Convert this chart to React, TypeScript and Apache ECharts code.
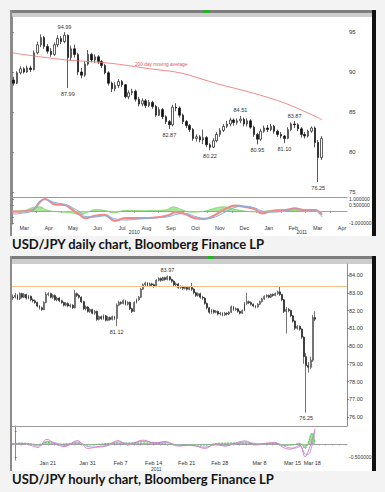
import React, { useEffect, useRef } from "react";
import * as echarts from "echarts";

// ---------------- DAILY (3-trading-day bars: [open, close, low, high]) ----------------
const dailyBars: number[][] = [
  [89.0, 88.6, 88.3, 89.4], [88.6, 89.9, 88.5, 90.1], [89.9, 90.4, 89.7, 90.7], [90.4, 90.0, 89.8, 90.6],
  [90.0, 90.5, 89.9, 90.8], [90.5, 90.3, 90.0, 90.8], [90.3, 92.4, 90.2, 92.7], [92.4, 93.4, 92.2, 93.8],
  [93.4, 94.3, 93.1, 94.7], [94.3, 93.2, 92.9, 94.5], [93.2, 92.6, 92.3, 93.5], [92.6, 92.2, 91.9, 93.0],
  [92.2, 93.4, 92.0, 93.7], [93.4, 94.2, 93.1, 94.6], [94.2, 93.8, 93.5, 94.5], [93.8, 94.6, 93.6, 94.99],
  [94.6, 91.8, 87.99, 94.7], [91.8, 92.9, 91.4, 93.3], [92.9, 92.2, 91.8, 93.4], [92.2, 90.0, 89.6, 92.4],
  [90.0, 89.6, 89.2, 90.5], [89.6, 91.0, 89.4, 91.3], [91.0, 92.2, 90.8, 92.75], [92.2, 91.5, 91.2, 92.4],
  [91.5, 91.9, 91.1, 92.2], [91.9, 91.3, 91.0, 92.1], [91.3, 90.8, 90.5, 91.5], [90.8, 89.9, 89.7, 91.0],
  [89.9, 88.6, 88.3, 90.1], [88.6, 87.9, 87.5, 88.8], [87.9, 88.3, 87.6, 88.7], [88.3, 88.8, 88.0, 89.1],
  [88.8, 88.4, 88.1, 89.0], [88.4, 86.9, 86.7, 88.5], [86.9, 87.4, 86.6, 87.7], [87.4, 87.6, 87.1, 87.9],
  [87.6, 86.6, 86.3, 87.8], [86.6, 86.0, 85.7, 86.9], [86.0, 86.4, 85.7, 86.7], [86.4, 85.8, 85.5, 86.6],
  [85.8, 86.2, 85.6, 86.5], [86.2, 85.7, 85.4, 86.4], [85.7, 84.6, 84.4, 85.9], [84.6, 85.3, 84.5, 85.6],
  [85.3, 84.4, 84.1, 85.5], [84.4, 83.8, 83.5, 84.6], [83.8, 83.4, 82.87, 84.0], [83.4, 85.6, 83.2, 85.9],
  [85.6, 85.5, 85.1, 86.1], [85.5, 84.6, 84.3, 85.7], [84.6, 83.8, 83.5, 84.8], [83.8, 83.3, 83.0, 84.0],
  [83.3, 82.8, 82.5, 83.5], [82.8, 81.7, 81.4, 83.0], [81.7, 81.9, 81.3, 82.2], [81.9, 81.5, 81.2, 82.1],
  [81.5, 81.8, 81.0, 82.8], [81.8, 80.9, 80.6, 82.0], [80.9, 80.6, 80.22, 81.1], [80.6, 81.4, 80.5, 81.7],
  [81.4, 82.2, 81.2, 82.5], [82.2, 82.7, 81.9, 83.0], [82.7, 83.2, 82.5, 83.5], [83.2, 83.5, 83.0, 83.9],
  [83.5, 84.0, 83.2, 84.3], [84.0, 83.7, 83.3, 84.2], [83.7, 83.9, 83.4, 84.2], [83.9, 84.1, 83.6, 84.51],
  [84.1, 83.5, 83.2, 84.3], [83.5, 83.9, 83.2, 84.2], [83.9, 83.1, 82.9, 84.1], [83.1, 82.2, 81.9, 83.3],
  [82.2, 81.6, 80.95, 82.4], [81.6, 82.6, 81.4, 82.9], [82.6, 83.0, 82.4, 83.3], [83.0, 82.8, 82.5, 83.4],
  [82.8, 83.2, 82.6, 83.5], [83.2, 82.6, 82.3, 83.4], [82.6, 82.2, 81.9, 82.8], [82.2, 82.0, 81.7, 82.5],
  [82.0, 81.7, 81.1, 82.1], [81.7, 82.8, 81.6, 83.1], [82.8, 83.5, 82.6, 83.7], [83.5, 83.4, 83.0, 83.87],
  [83.4, 82.9, 82.6, 83.6], [82.9, 82.2, 81.8, 83.1], [82.2, 82.0, 81.7, 82.5], [82.0, 82.6, 81.8, 82.8],
  [82.6, 83.0, 82.4, 83.2], [83.0, 81.2, 80.6, 83.2], [81.2, 79.3, 76.25, 81.5], [79.3, 81.67, 79.0, 82.0],
];
const DAILY_SLOTS = 99;
const DAILY_MONTH_SPAN = 13.7;
const dailyMonthLabels = ["Mar", "Apr", "May", "Jun", "Jul", "Aug", "Sep", "Oct", "Nov", "Dec", "Jan", "Feb", "Mar", "Apr"];
const dailyYearLabels = ["2010", "2011"];
const dailyYearPos = [5, 11.85];
const dailyPriceTicks = [75, 80, 85, 90, 95];
const dailyOscTickMarks = [-1, -0.5, 0, 0.5, 1];
const dailyOscTickLabels = [-1, 0.5, 1];
// 200 day moving average: [months since Mar 1 2010, value]
const dailyMA200 = [
  [0, 92.4], [1.15, 91.9], [2.26, 91.5], [4.01, 91.1], [5.64, 90.4], [6.87, 89.9],
  [8.43, 88.5], [9.82, 87.4], [11.17, 86.1], [12.52, 84.3], [12.68, 84.0],
];
const dailyMALabel = { pos: [6.1, 91.0], text: "200 day moving average" };
// [bar index, price, side]
const dailyAnnotations: [number, number, string][] = [
  [15, 94.99, "top"], [16, 87.99, "bottom"], [46, 82.87, "bottom"], [58, 80.22, "bottom"],
  [67, 84.51, "top"], [72, 80.95, "bottom"], [80, 81.1, "bottom"], [83, 83.87, "top"], [90, 76.25, "bottom"],
];
const dailyLastPrice = 81.67;
const dailyMALast = 84.05;
const dailyOscRed = [
  [0, -0.05], [0.33, -0.05], [0.86, 0.1], [1.15, 0.78], [1.35, 1.0], [1.76, 0.55], [2.17, 0.5], [2.37, 0.25],
  [2.78, -0.33], [2.99, -0.6], [3.39, -0.4], [3.8, -0.33], [4.21, -0.83], [4.62, -0.6], [5.24, -0.6], [6.05, -0.5],
  [6.46, -0.3], [6.67, -0.1], [7.08, -0.25], [7.48, -0.6], [7.89, -0.65], [8.3, -0.33], [8.71, 0.15], [9.12, 0.45],
  [9.53, 0.35], [9.94, 0.15], [10.22, -0.2], [10.63, 0], [11.17, 0.08], [11.57, 0.22], [11.98, 0.05], [12.39, 0.08], [12.68, -0.3],
];
const dailyOscBlue = [
  [0, -0.25], [0.33, -0.2], [0.86, 0.05], [1.15, 0.85], [1.35, 0.95], [1.76, 0.7], [2.17, 0.55], [2.37, 0.4],
  [2.78, -0.1], [2.99, -0.45], [3.39, -0.5], [3.8, -0.4], [4.21, -0.65], [4.62, -0.75], [5.24, -0.65], [6.05, -0.55],
  [6.46, -0.45], [6.67, -0.3], [7.08, -0.2], [7.48, -0.45], [7.89, -0.65], [8.3, -0.5], [8.71, -0.1], [9.12, 0.3],
  [9.53, 0.4], [9.94, 0.25], [10.22, 0.0], [10.63, -0.1], [11.17, 0.0], [11.57, 0.15], [11.98, 0.12], [12.39, 0.05], [12.68, -0.5],
];
const dailyOscGreen = [
  [0, 0], [0.5, 0.05], [0.86, 0.3], [1.15, 0.35], [1.4, 0.1], [1.76, -0.05], [2.4, -0.15], [2.8, -0.3], [3.1, -0.1],
  [3.4, 0.12], [3.8, 0.05], [4.2, -0.15], [4.6, 0.05], [5.5, 0.03], [6.3, 0.1], [6.6, 0.35], [6.9, 0.15], [7.3, -0.1],
  [7.9, 0.0], [8.3, 0.25], [8.7, 0.35], [9.0, 0.2], [9.5, 0.0], [10.0, -0.08], [10.6, 0.05], [11.2, 0.1], [11.6, 0.05],
  [12.1, -0.05], [12.5, 0.0], [12.68, -0.2],
];
const dailyOscBoxValues = [-0.04, -0.46];
const dailyOscBoxTexts = ["-0.3469", "-0.5458"];

// ---------------- HOURLY (8-hour bars: [open, close, low, high]) ----------------
const hourlyBars: number[][] = [
  [82.7, 82.76, 82.6, 82.9], [82.76, 82.85, 82.68, 82.98], [82.85, 82.65, 82.58, 82.92], [82.65, 82.95, 82.6, 83.02],
  [82.95, 82.75, 82.68, 83.0], [82.75, 82.9, 82.7, 82.98], [82.9, 82.7, 82.62, 82.95], [82.7, 82.8, 82.64, 82.88],
  [82.8, 82.6, 82.52, 82.85], [82.6, 82.55, 82.45, 82.68], [82.55, 82.45, 82.38, 82.62], [82.45, 82.25, 82.18, 82.5],
  [82.25, 82.15, 82.06, 82.3], [82.15, 82.05, 81.98, 82.22], [82.05, 82.45, 82.02, 82.52], [82.45, 82.9, 82.4, 83.04],
  [82.9, 82.95, 82.8, 83.02], [82.95, 82.75, 82.68, 83.0], [82.75, 82.85, 82.66, 82.92], [82.85, 82.6, 82.55, 82.9],
  [82.6, 82.7, 82.52, 82.78], [82.7, 82.55, 82.46, 82.75], [82.55, 82.45, 82.38, 82.6], [82.45, 82.3, 82.22, 82.5],
  [82.3, 82.4, 82.24, 82.48], [82.4, 82.25, 82.18, 82.45], [82.25, 82.3, 82.16, 82.38], [82.3, 82.15, 82.08, 82.36],
  [82.15, 82.95, 82.12, 83.15], [82.95, 82.85, 82.76, 83.02], [82.85, 82.75, 82.66, 82.92], [82.75, 82.5, 82.42, 82.8],
  [82.5, 82.1, 82.02, 82.55], [82.1, 82.2, 82.0, 82.28], [82.2, 81.95, 81.88, 82.25], [81.95, 82.05, 81.86, 82.12],
  [82.05, 81.85, 81.78, 82.1], [81.85, 81.95, 81.76, 82.02], [81.95, 81.5, 81.42, 82.0], [81.5, 81.65, 81.44, 81.72],
  [81.65, 81.55, 81.46, 81.72], [81.55, 81.7, 81.48, 81.78], [81.7, 81.45, 81.38, 81.75], [81.45, 81.6, 81.4, 81.68],
  [81.6, 81.5, 81.42, 81.66], [81.5, 81.65, 81.44, 81.72], [81.65, 81.55, 81.46, 81.7], [81.55, 82.3, 81.12, 82.4],
  [82.3, 82.45, 82.24, 82.55], [82.45, 82.4, 82.32, 82.52], [82.4, 82.55, 82.34, 82.62], [82.55, 82.35, 82.28, 82.6],
  [82.35, 82.45, 82.28, 82.52], [82.45, 82.1, 82.02, 82.5], [82.1, 81.95, 81.86, 82.15], [81.95, 82.45, 81.92, 82.52],
  [82.45, 82.6, 82.4, 82.68], [82.6, 82.75, 82.55, 82.82], [82.75, 83.2, 82.7, 83.28], [83.2, 83.45, 83.15, 83.52],
  [83.45, 83.55, 83.38, 83.62], [83.55, 83.4, 83.34, 83.6], [83.4, 83.5, 83.35, 83.58], [83.5, 83.45, 83.38, 83.56],
  [83.45, 83.35, 83.28, 83.52], [83.35, 83.7, 83.32, 83.76], [83.7, 83.8, 83.64, 83.88], [83.8, 83.7, 83.62, 83.86],
  [83.7, 83.85, 83.66, 83.9], [83.85, 83.75, 83.68, 83.9], [83.75, 83.9, 83.7, 83.97], [83.9, 83.75, 83.68, 83.94],
  [83.75, 83.65, 83.56, 83.8], [83.65, 83.45, 83.38, 83.7], [83.45, 83.5, 83.36, 83.58], [83.5, 83.3, 83.22, 83.55],
  [83.3, 83.35, 83.22, 83.42], [83.35, 83.25, 83.16, 83.4], [83.25, 83.3, 83.18, 83.38], [83.3, 83.2, 83.12, 83.36],
  [83.2, 83.3, 83.14, 83.36], [83.3, 83.2, 83.1, 83.55], [83.2, 83.0, 82.92, 83.25], [83.0, 82.85, 82.76, 83.05],
  [82.85, 82.95, 82.78, 83.02], [82.95, 82.75, 82.66, 83.0], [82.75, 82.7, 82.6, 82.82], [82.7, 82.4, 82.32, 82.75],
  [82.4, 82.15, 82.06, 82.45], [82.15, 81.9, 81.82, 82.2], [81.9, 82.0, 81.82, 82.08], [82.0, 81.9, 81.82, 82.06],
  [81.9, 81.95, 81.84, 82.02], [81.95, 81.8, 81.72, 82.0], [81.8, 81.85, 81.72, 81.92], [81.85, 81.75, 81.68, 81.9],
  [81.75, 81.85, 81.7, 81.92], [81.85, 81.8, 81.72, 81.9], [81.8, 81.9, 81.74, 81.96], [81.9, 82.2, 81.86, 82.28],
  [82.2, 82.05, 81.98, 82.25], [82.05, 82.1, 81.98, 82.18], [82.1, 81.95, 81.88, 82.14], [81.95, 81.85, 81.78, 82.0],
  [81.85, 82.0, 81.8, 82.06], [82.0, 82.4, 81.96, 82.48], [82.4, 82.5, 82.32, 83.0], [82.5, 82.45, 82.36, 82.56],
  [82.45, 82.35, 82.28, 82.52], [82.35, 82.25, 82.18, 82.4], [82.25, 82.2, 82.12, 82.3], [82.2, 82.35, 82.16, 82.42],
  [82.35, 82.5, 82.3, 82.56], [82.5, 82.65, 82.45, 82.72], [82.65, 82.8, 82.6, 82.86], [82.8, 82.85, 82.72, 82.92],
  [82.85, 82.75, 82.68, 82.9], [82.75, 82.9, 82.7, 82.96], [82.9, 82.85, 82.78, 82.96], [82.85, 82.95, 82.8, 83.02],
  [82.95, 83.05, 82.88, 83.12], [83.05, 82.9, 82.82, 83.35], [82.9, 82.6, 82.52, 82.95], [82.6, 81.95, 81.86, 82.65],
  [81.95, 82.05, 80.7, 82.2], [82.05, 82.0, 81.9, 82.15], [82.0, 81.7, 81.62, 82.05], [81.7, 81.4, 81.32, 81.75],
  [81.4, 81.0, 80.9, 81.45], [81.0, 81.1, 80.92, 81.18], [81.1, 80.95, 80.86, 81.15], [80.95, 80.5, 80.4, 81.0],
  [80.5, 79.4, 79.0, 80.55], [79.4, 78.9, 76.25, 79.6], [78.9, 78.8, 78.5, 79.1], [78.8, 79.2, 78.7, 79.4],
  [79.2, 81.6, 79.1, 81.75], [81.6, 81.51, 81.4, 81.95],
];
const HOURLY_SLOTS = 152;
const HOURLY_BARS_PER_DAY = 3;
const HOURLY_START_DAY = -0.42; // trading days relative to Jan 14 2011
const hourlyTickLabels = ["Jan 21", "Jan 31", "Feb 7", "Feb 14", "Feb 21", "Feb 28", "Mar 8", "Mar 15", "Mar 18"];
const hourlyTickDays = [5, 11, 16, 21, 26, 31, 37, 42, 45];
const hourlyYearLabels = ["2011"];
const hourlyYearPos = [21.4];
const hourlyPriceTicks = [76, 77, 78, 79, 80, 81, 82, 83, 84];
const hourlyOscTickMarks = [-0.5, 0, 0.5];
const hourlyOscTickLabels = [-0.5];
const hourlyAnnotations: [number, number, string][] = [
  [70, 83.97, "top"], [47, 81.12, "bottom"], [133, 76.25, "bottom"],
];
const hourlyResistance = 83.38;
const hourlyLastPrice = 81.51;
const hourlyOscPink = [
  [-0.42, -0.04], [0.79, 0.03], [2.3, -0.04], [3.51, -0.13], [4.87, 0.18], [6.08, 0], [7.6, -0.1], [9.41, 0.13],
  [11.08, -0.17], [12.59, -0.1], [14.1, -0.04], [15.61, 0.13], [17.13, -0.04], [19.4, 0.15], [21.21, 0.03], [22.72, 0.1],
  [24.69, -0.08], [26.81, -0.04], [28.77, -0.17], [30.29, 0], [31.8, -0.08], [33.31, 0.03], [34.82, 0.12], [36.34, -0.04],
  [37.85, 0.03], [39.36, 0.05], [40.57, -0.13], [41.63, -0.2], [42.39, -0.13], [43.14, -0.05], [43.9, -0.49], [44.35, -0.3],
  [44.96, 0.15], [45.41, 0.6],
];
const hourlyOscPurple = [
  [-0.42, -0.02], [0.79, 0.0], [2.3, 0.0], [3.51, -0.08], [4.87, 0.1], [6.08, 0.05], [7.6, -0.06], [9.41, 0.08],
  [11.08, -0.1], [12.59, -0.12], [14.1, -0.06], [15.61, 0.08], [17.13, 0.02], [19.4, 0.1], [21.21, 0.06], [22.72, 0.06],
  [24.69, -0.04], [26.81, -0.06], [28.77, -0.12], [30.29, -0.04], [31.8, -0.05], [33.31, 0.0], [34.82, 0.08], [36.34, 0.02],
  [37.85, 0.0], [39.36, 0.04], [40.57, -0.06], [41.63, -0.15], [42.39, -0.16], [43.14, -0.1], [43.9, -0.38], [44.35, -0.4],
  [44.96, -0.05], [45.41, 0.5],
];
const hourlyOscGreen = [
  [-0.42, 0.02], [1.5, 0.03], [3.5, -0.02], [4.87, 0.06], [7, 0.0], [9.4, 0.04], [11, -0.04], [14, 0.02], [15.6, 0.04],
  [19.4, 0.04], [22, 0.02], [24.7, -0.03], [28.8, -0.04], [31, 0.03], [34.8, 0.04], [37, 0.0], [39.4, 0.03], [40.6, -0.05],
  [42, -0.04], [43.14, 0.03], [43.9, -0.17], [44.35, 0.05], [44.96, 0.42], [45.41, 0.08],
];
const hourlyOscBoxValues = [0.52, 0.325, 0.115];
const hourlyOscBoxTexts = ["0.52756", "0.43841", "0.08877"];

// ---------------- helpers ----------------
const AX_FONT = "Liberation Sans";
const nearestLabel = (values: number[], labels: string[]) => (v: number) => {
  for (let i = 0; i < values.length; i++) if (Math.abs(values[i] - v) < 1e-6) return labels[i];
  return "";
};
const boxLine = (value: number, text: string, bg: string, fg: string, size = 6) => ({
  yAxis: value,
  lineStyle: { opacity: 0 },
  label: {
    show: true, position: "end", distance: 1, formatter: text, color: fg, backgroundColor: bg,
    fontSize: size, lineHeight: size, padding: [0, 3, 0, 2], fontFamily: AX_FONT,
  },
});
const annotationPoints = (list: [number, number, string][]) => ({
  symbol: "circle", symbolSize: 1, silent: true, itemStyle: { color: "rgba(0,0,0,0)" },
  label: { show: true, fontSize: 5.5, color: "#333", fontFamily: AX_FONT, distance: 2, formatter: (p: any) => Number(p.value).toFixed(2) },
  data: list.map(([i, v, side]) => ({ coord: [i, v], value: v, label: { position: side } })),
});
const rightAxis = (grid: number, min: number, max: number, ticks: number[], labels: number[], digits: number, size: number) => ({
  type: "value", gridIndex: grid, position: "right", min, max,
  axisLine: { show: true, lineStyle: { color: "#8a8a8a", width: 1 } },
  axisTick: { show: true, customValues: ticks, length: 2, lineStyle: { color: "#555", width: 0.6 } },
  axisLabel: { show: true, customValues: labels, fontSize: size, lineHeight: size, color: "#333", margin: 2, fontFamily: AX_FONT,
    formatter: (v: number) => (digits === 0 ? String(v) : v.toFixed(digits)) },
  splitLine: { show: false },
});
const hiddenCat = (grid: number, n: number) => ({
  type: "category", gridIndex: grid, position: "bottom", boundaryGap: true,
  data: Array.from({ length: n }, (_, i) => String(i)),
  axisLine: { show: true, lineStyle: { color: "#9a9a9a", width: 1 } },
  axisTick: { show: false }, axisLabel: { show: false }, splitLine: { show: false },
});
const oscLine = (data: number[][], xi: number, yi: number, color: string, width: number, extra: any = {}) => ({
  type: "line", xAxisIndex: xi, yAxisIndex: yi, data, smooth: 0.4, symbol: "none", silent: true,
  lineStyle: { color, width }, ...extra,
});

const HOURLY_MAX_DAY = HOURLY_START_DAY + HOURLY_SLOTS / HOURLY_BARS_PER_DAY;

function buildOption() {
  const monthCenters = dailyMonthLabels.map((_, i) => i + 0.5);
  const monthBounds = dailyMonthLabels.map((_, i) => i);
  const dayTicks = Array.from({ length: 51 }, (_, i) => i);
  return {
    animation: false,
    backgroundColor: "transparent",
    textStyle: { fontFamily: AX_FONT },
    graphic: [
      { type: "text", x: 12, y: 243.5, silent: true, style: { text: "USD/JPY daily chart, Bloomberg Finance LP", font: "bold 13px Lato", fill: "#151515", verticalAlign: "middle" } },
      { type: "text", x: 12, y: 478.5, silent: true, style: { text: "USD/JPY hourly chart, Bloomberg Finance LP", font: "bold 13px Lato", fill: "#151515", verticalAlign: "middle" } },
    ],
    grid: [
      { left: 12, top: 17, width: 335, height: 180 },
      { left: 12, top: 197, width: 335, height: 27 },
      { left: 12, top: 264, width: 335, height: 162 },
      { left: 12, top: 426, width: 335, height: 34 },
    ],
    xAxis: [
      hiddenCat(0, DAILY_SLOTS),
      { type: "value", gridIndex: 0, position: "bottom", min: 0, max: DAILY_MONTH_SPAN, show: false },
      {
        type: "value", gridIndex: 1, position: "bottom", min: 0, max: DAILY_MONTH_SPAN,
        axisLine: { show: true, lineStyle: { color: "#8a8a8a", width: 1 } },
        axisTick: { show: true, customValues: monthBounds, length: 2, lineStyle: { color: "#666", width: 0.6 } },
        axisLabel: { show: true, customValues: monthCenters, fontSize: 5.5, lineHeight: 5.5, color: "#333", margin: 1, fontFamily: AX_FONT,
          formatter: nearestLabel(monthCenters, dailyMonthLabels) },
        splitLine: { show: false },
      },
      {
        type: "value", gridIndex: 1, position: "bottom", min: 0, max: DAILY_MONTH_SPAN, offset: 4.5,
        axisLine: { show: false }, axisTick: { show: false }, splitLine: { show: false },
        axisLabel: { show: true, customValues: dailyYearPos, fontSize: 5, lineHeight: 5, color: "#333", margin: 1, fontFamily: AX_FONT,
          formatter: nearestLabel(dailyYearPos, dailyYearLabels) },
      },
      hiddenCat(2, HOURLY_SLOTS),
      {
        type: "value", gridIndex: 3, position: "bottom", min: HOURLY_START_DAY, max: HOURLY_MAX_DAY,
        axisLine: { show: true, lineStyle: { color: "#8a8a8a", width: 1 } },
        axisTick: { show: true, customValues: dayTicks, length: 1.5, lineStyle: { color: "#777", width: 0.6 } },
        axisLabel: { show: true, customValues: hourlyTickDays, fontSize: 5.5, lineHeight: 5.5, color: "#333", margin: 0.5, fontFamily: AX_FONT,
          formatter: nearestLabel(hourlyTickDays, hourlyTickLabels) },
        splitLine: { show: false },
      },
      {
        type: "value", gridIndex: 3, position: "bottom", min: HOURLY_START_DAY, max: HOURLY_MAX_DAY, offset: 5,
        axisLine: { show: false }, axisTick: { show: false }, splitLine: { show: false },
        axisLabel: { show: true, customValues: hourlyYearPos, fontSize: 5, lineHeight: 5, color: "#333", margin: 1, fontFamily: AX_FONT,
          formatter: nearestLabel(hourlyYearPos, hourlyYearLabels) },
      },
    ],
    yAxis: [
      rightAxis(0, 74.375, 96.875, dailyPriceTicks, dailyPriceTicks, 0, 6),
      rightAxis(1, -1.0833, 1.1667, dailyOscTickMarks, dailyOscTickLabels, 6, 5),
      rightAxis(2, 75.493, 84.62, hourlyPriceTicks, hourlyPriceTicks, 2, 5.5),
      rightAxis(3, -0.6154, 0.6923, hourlyOscTickMarks, hourlyOscTickLabels, 6, 5),
    ],
    series: [
      {
        type: "candlestick", xAxisIndex: 0, yAxisIndex: 0, data: dailyBars, barWidth: 2, silent: true,
        itemStyle: { color: "#ffffff", color0: "#111111", borderColor: "#1a1a1a", borderColor0: "#111111", borderWidth: 0.7 },
        markPoint: annotationPoints(dailyAnnotations),
        markLine: { silent: true, symbol: ["none", "none"], data: [boxLine(dailyLastPrice, dailyLastPrice.toFixed(2), "#000000", "#ffffff", 5.5)] },
      },
      {
        type: "line", xAxisIndex: 1, yAxisIndex: 0, data: dailyMA200, smooth: 0.3, symbol: "none", silent: true,
        lineStyle: { color: "#ee6b6b", width: 0.8 },
        markPoint: {
          symbol: "circle", symbolSize: 1, silent: true, itemStyle: { color: "rgba(0,0,0,0)" },
          label: { show: true, position: "inside", fontSize: 4.8, color: "#e25555", fontFamily: AX_FONT, formatter: dailyMALabel.text },
          data: [{ coord: dailyMALabel.pos }],
        },
        markLine: { silent: true, symbol: ["none", "none"], data: [boxLine(dailyMALast, dailyMALast.toFixed(2), "#e31b1b", "#ffffff", 5.5)] },
      },
      oscLine(dailyOscGreen, 2, 1, "#5fcf4a", 0.6, {
        areaStyle: { color: "#9fe38f", opacity: 0.9, origin: 0 },
        markLine: { silent: true, symbol: ["none", "none"], data: [{ yAxis: 0, lineStyle: { color: "#b5b5b5", width: 0.5, type: "solid" }, label: { show: false } }] },
      }),
      oscLine(dailyOscRed, 2, 1, "#ef8a8a", 2.2),
      oscLine(dailyOscBlue, 2, 1, "#7fb2ea", 1, {
        markLine: {
          silent: true, symbol: ["none", "none"],
          data: [
            boxLine(dailyOscBoxValues[0], dailyOscBoxTexts[0], "#e31b1b", "#ffffff", 5),
            boxLine(dailyOscBoxValues[1], dailyOscBoxTexts[1], "#2f8ff0", "#ffffff", 5),
          ],
        },
      }),
      {
        type: "candlestick", xAxisIndex: 4, yAxisIndex: 2, data: hourlyBars, barWidth: 1.4, silent: true,
        itemStyle: { color: "#ffffff", color0: "#111111", borderColor: "#1a1a1a", borderColor0: "#111111", borderWidth: 0.6 },
        markPoint: annotationPoints(hourlyAnnotations),
        markLine: {
          silent: true, symbol: ["none", "none"],
          data: [
            { yAxis: hourlyResistance, lineStyle: { color: "#f6c089", width: 1, type: "solid", opacity: 1 }, label: { show: false } },
            boxLine(hourlyLastPrice, hourlyLastPrice.toFixed(2), "#000000", "#ffffff", 5.5),
          ],
        },
      },
      oscLine(hourlyOscGreen, 5, 3, "#27b827", 0.8, {
        lineStyle: { color: "#27b827", width: 0.8, type: [2, 1] },
        areaStyle: { color: "#7fdc7f", opacity: 0.8, origin: 0 },
        markLine: { silent: true, symbol: ["none", "none"], data: [{ yAxis: 0, lineStyle: { color: "#b5b5b5", width: 0.5, type: "solid" }, label: { show: false } }] },
      }),
      oscLine(hourlyOscPurple, 5, 3, "#a79ae0", 0.9),
      oscLine(hourlyOscPink, 5, 3, "#d877b9", 0.9, {
        markLine: {
          silent: true, symbol: ["none", "none"],
          data: [
            boxLine(hourlyOscBoxValues[0], hourlyOscBoxTexts[0], "#2f8ff0", "#ffffff", 5),
            boxLine(hourlyOscBoxValues[1], hourlyOscBoxTexts[1], "#e31b1b", "#ffffff", 5),
            boxLine(hourlyOscBoxValues[2], hourlyOscBoxTexts[2], "#00d400", "#000000", 5),
          ],
        },
      }),
    ],
  };
}

// window chrome (layout only)
const abs = (left: number, top: number, width: number, height: number, background: string, zIndex = 0): React.CSSProperties => ({
  position: "absolute", left, top, width, height, background, zIndex,
});
const Frame = ({ top, height, headH, greenX }: { top: number; height: number; headH: number; greenX: number }) => (
  <>
    <div style={abs(10, top, 366, height, "#ffffff")} />
    <div style={abs(10, top, 366, 3, "#7d7d7d")} />
    <div style={abs(10, top + 3, 366, headH, "#cdcdcd")} />
    <div style={abs(greenX, top, 6, 3, "#22b422")} />
    <div style={abs(10, top, 2, height, "#8c8c8c")} />
    <div style={abs(372, top, 4, height, "#111111", 3)} />
  </>
);

export default function App() {
  const ref = useRef<HTMLDivElement>(null);
  useEffect(() => {
    if (!ref.current) return;
    const chart = echarts.init(ref.current, undefined, { renderer: "svg" });
    chart.setOption(buildOption() as any);
    return () => chart.dispose();
  }, []);
  return (
    <div style={{ position: "fixed", left: 0, top: 0, width: 385, height: 492, background: "#f3f3f3", overflow: "hidden" }}>
      <Frame top={10} height={226} headH={4} greenX={203} />
      <Frame top={256} height={215} headH={5} greenX={208} />
      <div ref={ref} style={{ position: "absolute", left: 0, top: 0, width: 385, height: 492, zIndex: 1 }} />
    </div>
  );
}
